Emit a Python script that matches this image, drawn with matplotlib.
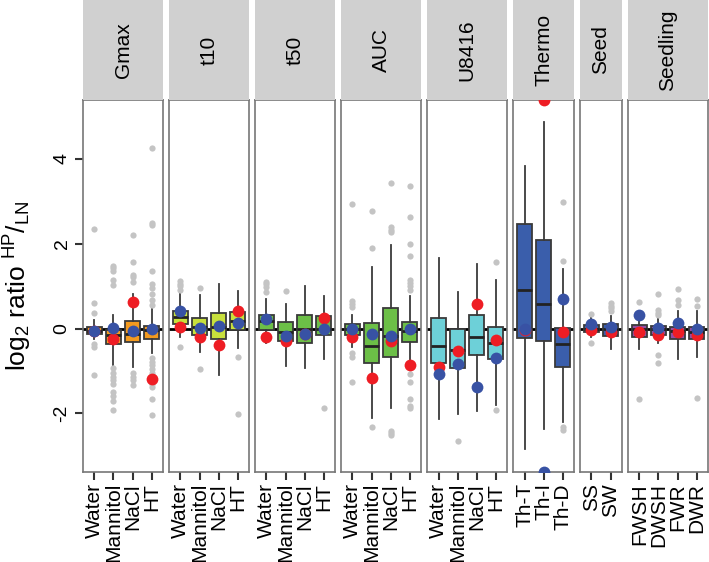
import matplotlib
matplotlib.use("Agg")
import matplotlib.pyplot as plt

plt.rcParams['font.family'] = ['Liberation Sans', 'DejaVu Sans']
plt.rcParams['mathtext.fontset'] = 'custom'
plt.rcParams['mathtext.rm'] = 'Liberation Sans'
plt.rcParams['mathtext.it'] = 'Liberation Sans'

facets = ["Gmax", "t10", "t50", "AUC", "U8416", "Thermo", "Seed", "Seedling"]
categories = [
    ["Water", "Mannitol", "NaCl", "HT"],
    ["Water", "Mannitol", "NaCl", "HT"],
    ["Water", "Mannitol", "NaCl", "HT"],
    ["Water", "Mannitol", "NaCl", "HT"],
    ["Water", "Mannitol", "NaCl", "HT"],
    ["Th-T", "Th-I", "Th-D"],
    ["SS", "SW"],
    ["FWSH", "DWSH", "FWR", "DWR"],
]
box_colors = ["#F39A1F", "#C8E03C", "#6CBF47", "#6CBF47", "#6DD0D8", "#3A5EAB", "#3A5EAB", "#934CA3"]

whislo = [
    [-0.25, -0.86, -0.91, -0.58],
    [-0.20, -0.56, -1.09, -0.45],
    [-0.35, -0.87, -0.92, -0.72],
    [-0.44, -2.11, -1.86, -0.74],
    [-2.14, -2.02, -1.95, -1.80],
    [-2.83, -2.37, -2.19],
    [-0.19, -0.48],
    [-0.49, -0.35, -0.72, -0.68],
]
q1 = [
    [-0.13, -0.37, -0.31, -0.24],
    [0.10, -0.15, -0.24, -0.03],
    [-0.03, -0.29, -0.34, -0.14],
    [-0.15, -0.82, -0.66, -0.31],
    [-0.80, -0.92, -0.63, -0.71],
    [-0.21, -0.28, -0.90],
    [-0.09, -0.17],
    [-0.19, -0.15, -0.25, -0.25],
]
med = [
    [-0.05, -0.15, -0.13, -0.03],
    [0.27, 0.04, 0.05, 0.17],
    [0.17, -0.09, 0.00, 0.00],
    [-0.02, -0.41, -0.17, -0.06],
    [-0.40, -0.51, -0.20, -0.34],
    [0.90, 0.58, -0.36],
    [0.00, -0.02],
    [-0.02, -0.02, -0.06, -0.07],
]
q3 = [
    [0.03, -0.04, 0.17, 0.06],
    [0.41, 0.26, 0.36, 0.39],
    [0.31, 0.15, 0.31, 0.29],
    [0.10, 0.13, 0.48, 0.16],
    [0.24, -0.02, 0.33, 0.05],
    [2.47, 2.09, 0.02],
    [0.09, 0.10],
    [0.09, 0.07, 0.03, 0.03],
]
whishi = [
    [0.20, 0.32, 0.81, 0.46],
    [0.83, 0.79, 1.05, 0.89],
    [0.69, 0.58, 1.01, 0.77],
    [0.32, 1.46, 1.97, 0.77],
    [1.67, 0.86, 1.52, 1.14],
    [3.84, 4.86, 1.41],
    [0.28, 0.30],
    [0.30, 0.28, 0.42, 0.42],
]
outliers = [
    [[2.34, 0.61, 0.38, -0.36, -0.44, -1.09],
     [1.48, 1.42, 1.36, 1.15, 1.03, -0.92, -1.05, -1.15, -1.22, -1.30, -1.50, -1.60, -1.70, -1.93],
     [2.21, 1.58, 1.27, 1.21, 1.11, -1.05, -1.13, -1.21, -1.33],
     [4.26, 2.48, 2.44, 1.36, 1.05, 0.95, 0.82, 0.68, 0.56, -0.70, -0.78, -0.86, -0.96, -1.05,
      -1.15, -1.30, -1.37, -1.67, -2.04]],
    [[1.12, 1.06, 1.00, 0.92, -0.44], [0.96, -0.96], [], [-0.66, -2.01]],
    [[1.11, 1.05, 0.99, 0.86], [0.88], [], [-1.86]],
    [[2.93, 0.66, 0.58, 0.50, -0.57, -0.66, -1.27],
     [2.78, 1.90, -2.33],
     [3.43, 2.39, 2.33, 2.27, -2.41, -2.47, -2.51],
     [3.37, 2.62, 1.99, 1.71, 1.15, 1.08, 1.01, 0.91, -1.07, -1.25, -1.66, -1.82, -1.86]],
    [[], [-2.66], [], [1.58, -1.92]],
    [[], [], [2.99, 1.60, -2.33, -2.39]],
    [[0.35, -0.33], [0.60, 0.54, 0.48, 0.42]],
    [[0.62, -1.67], [0.81, 0.44, 0.38, 0.32, -0.62, -0.82], [0.93, 0.68, 0.56], [0.69, 0.53, -1.64]],
]
red_values = [
    [-0.05, -0.25, 0.63, -1.19],
    [0.03, -0.19, -0.39, 0.42],
    [-0.20, -0.28, -0.13, 0.24],
    [-0.19, -1.16, -0.29, -0.86],
    [-0.90, -0.53, 0.57, -0.27],
    [-0.03, 5.39, -0.09],
    [-0.04, -0.09],
    [-0.09, -0.15, -0.09, -0.15],
]
blue_values = [
    [-0.05, 0.01, -0.06, 0.00],
    [0.41, 0.02, 0.06, 0.13],
    [0.23, -0.17, -0.13, -0.02],
    [-0.02, -0.13, -0.17, 0.00],
    [-1.07, -0.83, -1.37, -0.70],
    [-0.01, -3.37, 0.71],
    [0.12, 0.04],
    [0.31, 0.02, 0.13, 0.00],
]
y_ticks = [-2, 0, 2, 4]
y_limits = (-3.38, 5.39)

W, H = 709, 562
fig = plt.figure(figsize=(W / 100, H / 100), dpi=100)

left_px, right_px, gap_px = 83, 708, 6
panel_top, panel_bot = 100, 472
units = [len(c) + 0.2 for c in categories]
per_unit = (right_px - left_px - gap_px * (len(facets) - 1)) / sum(units)

x = left_px
for i, name in enumerate(facets):
    wpx = units[i] * per_unit
    ax = fig.add_axes([x / W, (H - panel_bot) / H, wpx / W, (panel_bot - panel_top) / H])
    sax = fig.add_axes([x / W, (H - panel_top) / H, wpx / W, panel_top / H])
    x += wpx + gap_px

    n = len(categories[i])
    stats = []
    for j in range(n):
        stats.append(dict(med=med[i][j], q1=q1[i][j], q3=q3[i][j],
                          whislo=whislo[i][j], whishi=whishi[i][j],
                          fliers=outliers[i][j], label=categories[i][j]))
    pos = list(range(1, n + 1))
    ax.axhline(0, color="black", lw=2.0, zorder=1)
    ax.bxp(stats, positions=pos, widths=0.8, patch_artist=True, showcaps=False,
           boxprops=dict(facecolor=box_colors[i], edgecolor="#3a3a3a", linewidth=1.3),
           medianprops=dict(color="#222222", linewidth=2.0),
           whiskerprops=dict(color="#3a3a3a", linewidth=1.3),
           flierprops=dict(marker="o", markerfacecolor="#C4C4C4", markeredgecolor="none",
                           markersize=4.5),
           zorder=2)
    ax.plot(pos, red_values[i], "o", color="#EE1D24", ms=8.5, mec="none", zorder=4)
    ax.plot(pos, blue_values[i], "o", color="#3852A4", ms=8.5, mec="none", zorder=5)

    ax.set_xlim(0.4, n + 0.6)
    ax.set_ylim(*y_limits)
    ax.set_xticks(pos)
    ax.set_xticklabels(categories[i], rotation=90, fontsize=15, va="top", ha="center")
    ax.tick_params(axis="x", length=6, width=1.5, color="#333333", pad=2)
    for s in ax.spines.values():
        s.set_color("#777777")
        s.set_linewidth(1.2)
    if i == 0:
        ax.set_yticks(y_ticks)
        ax.set_yticklabels([str(t) for t in y_ticks], rotation=90, va="center", fontsize=14)
        ax.tick_params(axis="y", length=6, width=1.5, color="#333333", pad=3)
        ax.set_ylabel(r"log$_2$ ratio $^{\mathrm{HP}}$/$_{\mathrm{LN}}$", fontsize=19, labelpad=14)
    else:
        ax.set_yticks([])

    sax.set_facecolor("#D0D0D0")
    sax.set_xticks([])
    sax.set_yticks([])
    for s in sax.spines.values():
        s.set_visible(False)
    sax.text(0.5, 0.5, name, rotation=90, ha="center", va="center", fontsize=15,
             transform=sax.transAxes)

fig.savefig("out.png", dpi=100)
